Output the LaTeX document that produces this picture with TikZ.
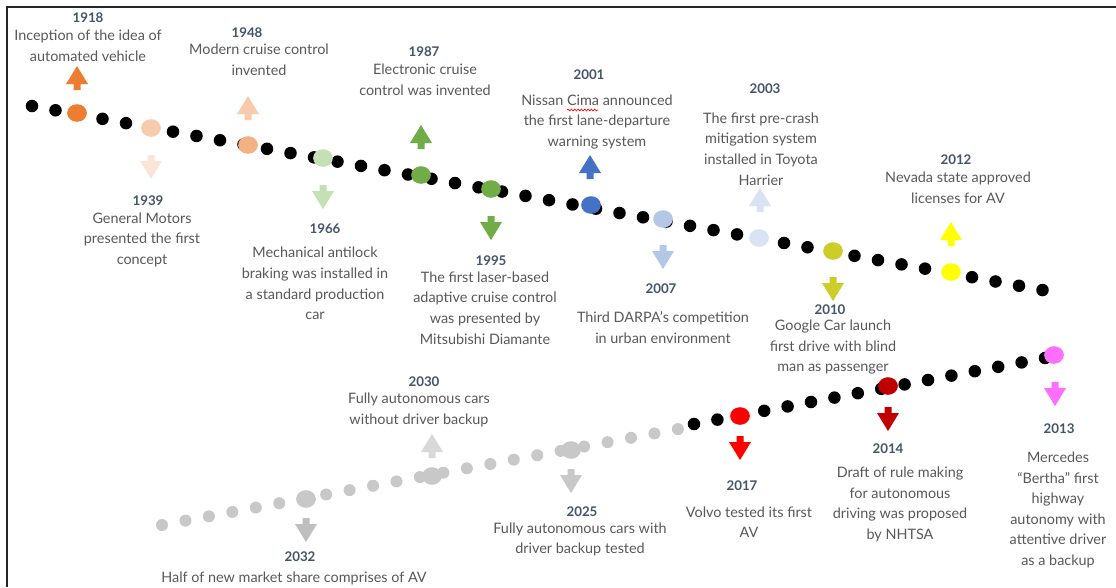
\documentclass[tikz,border=0pt]{standalone}
\usepackage{fontspec}
\setmainfont{Lato}
\usetikzlibrary{shapes.geometric,decorations.pathmorphing}
\definecolor{txt}{HTML}{595959}
\definecolor{yr}{HTML}{44546A}
\definecolor{cOrange}{HTML}{ED7D31}
\definecolor{cPeach}{HTML}{F8CBAD}
\definecolor{cPeachL}{HTML}{FBE5D6}
\definecolor{cPeachD}{HTML}{F4B183}
\definecolor{cGreenL}{HTML}{C5E0B4}
\definecolor{cGreen}{HTML}{70AD47}
\definecolor{cBlue}{HTML}{4472C4}
\definecolor{cBlueL}{HTML}{B4C7E7}
\definecolor{cBlueXL}{HTML}{DAE3F3}
\definecolor{cOlive}{HTML}{CDCD2A}
\definecolor{cYellow}{HTML}{FFFF00}
\definecolor{cPink}{HTML}{FF6EFF}
\definecolor{cDarkRed}{HTML}{C00000}
\definecolor{cRed}{HTML}{FF0000}
\definecolor{cGray}{HTML}{C8C8C8}
\definecolor{cGrayL}{HTML}{D9D9D9}
\definecolor{cGrayD}{HTML}{BFBFBF}
\newcommand\UpArr[3]{\fill[#3] (#1,#2) -- (#1+11,#2+18) -- (#1+3.5,#2+18) -- (#1+3.5,#2+24) -- (#1-3.5,#2+24) -- (#1-3.5,#2+18) -- (#1-11,#2+18) -- cycle;}
\newcommand\DnArr[3]{\fill[#3] (#1-3.5,#2) -- (#1+3.5,#2) -- (#1+3.5,#2+6) -- (#1+11,#2+6) -- (#1,#2+24) -- (#1-11,#2+6) -- (#1-3.5,#2+6) -- cycle;}
\begin{document}
\begin{tikzpicture}[x=0.75pt,y=-0.75pt,
  bdot/.style={circle,fill=black,inner sep=0,minimum size=9.4pt},
  gdot/.style={circle,fill=cGray,inner sep=0,minimum size=9pt},
  cdot/.style={ellipse,inner sep=0,minimum width=14.8pt,minimum height=13.2pt},
  desc/.style={text=txt,align=center,font=\fontsize{10.8}{15.4}\selectfont,inner sep=0},
  yearlbl/.style={text=yr,font=\bfseries\fontsize{10}{11}\selectfont,inner sep=0}]
\useasboundingbox (0,0) rectangle (1116,587);
\fill[white] (0,0) rectangle (1116,587);
% frame
\draw[line width=1.5pt,black!85] (1116,7) -- (7,7) -- (7,587);
% chains
\foreach \i in {0,...,43} \node[bdot] (u\i) at ({32+23.5*\i},{106+4.28*\i}) {};
\foreach \i in {0,...,22} \node[gdot] (g\i) at ({162+23.45*\i},{525-4.36*\i}) {};
\foreach \i in {0,...,15} \node[bdot] (l\i) at ({694+23.4*\i},{424-4.4*\i}) {};
% coloured dots
\node[cdot,fill=cOrange] (d1918) at (77,113) {};
\node[cdot,fill=cPeach] (d1939) at (151,128) {};
\node[cdot,fill=cPeachD] (d1948) at (248,145) {};
\node[cdot,fill=cGreenL] (d1966) at (323,158) {};
\node[cdot,fill=cGreen] (d1987) at (421,175) {};
\node[cdot,fill=cGreen] (d1995) at (491,189) {};
\node[cdot,fill=cBlue] (d2001) at (591,205) {};
\node[cdot,fill=cBlueL] (d2007) at (663,219) {};
\node[cdot,fill=cBlueXL] (d2003) at (759,238) {};
\node[cdot,fill=cOlive] (d2010) at (833,251) {};
\node[cdot,fill=cYellow] (d2012) at (951,272) {};
\node[cdot,fill=cPink] (d2013) at (1054,355) {};
\node[cdot,fill=cDarkRed] (d2014) at (888,386) {};
\node[cdot,fill=cRed] (d2017) at (740,416) {};
\node[cdot,fill=cGray] (d2025) at (571,450) {};
\node[cdot,fill=cGray] (d2030) at (432,476) {};
\node[cdot,fill=cGray] (d2032) at (306,499) {};
% arrows
\UpArr{77}{66}{cOrange}
\DnArr{151}{155}{cPeachL}
\UpArr{248}{96}{cPeach}
\DnArr{323}{185}{cGreenL}
\UpArr{421}{125}{cGreen}
\DnArr{491}{216}{cGreen}
\UpArr{590}{155}{cBlue}
\UpArr{760}{188}{cBlueXL}
\DnArr{663}{245}{cBlueL}
\DnArr{833}{277}{cOlive}
\UpArr{951}{222}{cYellow}
\DnArr{1055}{382}{cPink}
\DnArr{888}{407}{cDarkRed}
\DnArr{740}{436}{cRed}
\DnArr{571}{469}{cGray}
\UpArr{432}{434}{cGrayL}
\DnArr{306}{518}{cGrayD}
% labels
\node[yearlbl] (y1918) at (88,18) {1918};
\node[desc] (t1918) at (88,45.5) {Inception of the idea of\\automated vehicle};
\node[yearlbl] (y1948) at (247,33) {1948};
\node[desc] (t1948) at (259,60) {Modern cruise control\\invented};
\node[yearlbl] (y1987) at (424,52) {1987};
\node[desc] (t1987) at (425,79.5) {Electronic cruise\\control was invented};
\node[yearlbl] (y2001) at (589,75) {2001};
\node[desc] (t2001) at (597,122) {Nissan Cima announced\\the first lane-departure\\warning system};
\draw[cRed,line width=0.5pt,decorate,decoration={snake,amplitude=0.7pt,segment length=2.5pt}] (567,110) -- (598,110);
\node[yearlbl] (y2003) at (765,89) {2003};
\node[desc] (t2003) at (761,149) {The first pre-crash\\mitigation system\\installed in Toyota\\Harrier};
\node[yearlbl] (y2012) at (956,160) {2012};
\node[desc] (t2012) at (958,188) {Nevada state approved\\licenses for AV};
\node[yearlbl] (y1939) at (148,201) {1939};
\node[desc] (t1939) at (142,239.5) {General Motors\\presented the first\\concept};
\node[yearlbl] (y1966) at (325,229) {1966};
\node[desc] (t1966) at (315,283.5) {Mechanical antilock\\braking was installed in\\a standard production\\car};
\node[yearlbl] (y1995) at (491,261) {1995};
\node[desc] (t1995) at (485,308) {The first laser-based\\adaptive cruise control\\was presented by\\Mitsubishi Diamante};
\node[yearlbl] (y2007) at (661,289) {2007};
\node[desc] (t2007) at (663,327.5) {Third DARPA's competition\\in urban environment};
\node[yearlbl] (y2010) at (830,310) {2010};
\node[desc] (t2010) at (833,347) {Google Car launch\\first drive with blind\\man as passenger};
\node[yearlbl] (y2013) at (1059,429) {2013};
\node[desc] (t2013) at (1058,510) {Mercedes\\“Bertha” first\\highway\\autonomy with\\attentive driver\\as a backup};
\node[yearlbl] (y2014) at (888,449) {2014};
\node[desc] (t2014) at (900,504.5) {Draft of rule making\\for autonomous\\driving was proposed\\by NHTSA};
\node[yearlbl] (y2017) at (742,486) {2017};
\node[desc] (t2017) at (749,522) {Volvo tested its first\\AV};
\node[yearlbl] (y2025) at (582,512) {2025};
\node[desc] (t2025) at (580,539.5) {Fully autonomous cars with\\driver backup tested};
\node[yearlbl] (y2030) at (424,382) {2030};
\node[desc] (t2030) at (419,410) {Fully autonomous cars\\without driver backup};
\node[yearlbl] (y2032) at (300,557) {2032};
\node[desc] (t2032) at (294,578) {Half of new market share comprises of AV};
\end{tikzpicture}
\end{document}
